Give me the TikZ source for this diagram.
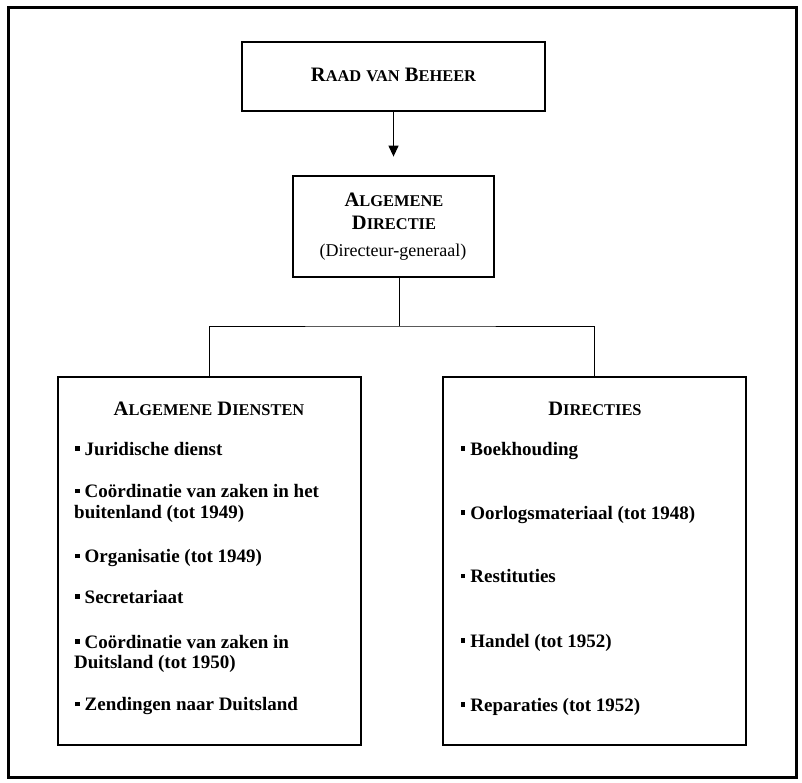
\documentclass[tikz,border=0pt]{standalone}
\usepackage{fontspec}
\setmainfont{Liberation Serif}
\usetikzlibrary{arrows.meta}

\newcommand{\ksc}[2]{#1{\fontsize{16.4pt}{19pt}\selectfont #2}}
\newcommand{\blt}{\rule[4.5pt]{4.5pt}{4.5pt}\hspace{5pt}}

\begin{document}
\begin{tikzpicture}[x=1pt,y=-1pt,
  box/.style={draw,line width=2.8pt,inner sep=0pt},
  head/.style={anchor=base,inner sep=0pt,font=\fontsize{20.5pt}{24pt}\selectfont\bfseries},
  item/.style={anchor=base west,inner sep=0pt,font=\fontsize{19pt}{22pt}\selectfont\bfseries},
  link/.style={line width=1pt}]

\useasboundingbox (0,0) rectangle (802,783);
\draw[line width=2.5pt] (8.5,7.5) rectangle (796.5,777.5);

% top
\node[box,minimum width=303pt,minimum height=69pt] (raad) at (393.5,76.5) {};
\node[head] (raadtxt) at (393.5,82) {\ksc{R}{AAD} \ksc{}{VAN} \ksc{B}{EHEER}};

\node[box,minimum width=201pt,minimum height=101pt] (mid) at (393.5,226.5) {};
\node[head] (midA) at (394,206.7) {\ksc{A}{LGEMENE}};
\node[head] (midB) at (394,230) {\ksc{D}{IRECTIE}};
\node[head,font=\fontsize{18pt}{22pt}\selectfont] (midC) at (393,256.7) {(Directeur-generaal)};

% bottom boxes
\node[box,minimum width=303pt,minimum height=368pt] (diensten) at (209.5,561) {};
\node[box,minimum width=303pt,minimum height=368pt] (directies) at (594.5,561) {};

\node[head] (dienstenkop) at (209,415) {\ksc{A}{LGEMENE} \ksc{D}{IENSTEN}};
\node[head] (directieskop) at (595,415.7) {\ksc{D}{IRECTIES}};

\node[item] (jur) at (75,455) {\blt Juridische dienst};
\node[item] (coa) at (75,497.7) {\blt Coördinatie van zaken in het};
\node[item] (cob) at (74,518) {buitenland (tot 1949)};
\node[item] (org) at (75,562.7) {\blt Organisatie (tot 1949)};
\node[item] (sec) at (75,603) {\blt Secretariaat};
\node[item] (cda) at (75,648) {\blt Coördinatie van zaken in};
\node[item] (cdb) at (74,668) {Duitsland (tot 1950)};
\node[item] (zen) at (75,710.7) {\blt Zendingen naar Duitsland};

\node[item] (boek) at (460.7,455) {\blt Boekhouding};
\node[item] (oorl) at (460.7,519) {\blt Oorlogsmateriaal (tot 1948)};
\node[item] (rest) at (460.7,582.7) {\blt Restituties};
\node[item] (handel) at (460.7,647) {\blt Handel (tot 1952)};
\node[item] (rep) at (460.7,711) {\blt Reparaties (tot 1952)};

% connectors
\coordinate (split) at (399,326);
\draw[line width=1.3pt,-{Triangle[length=11pt,width=10pt]},shorten >=18pt] (raad.south) -- (mid.north);
\draw[link] (mid.south -| split) -- (split);
\draw[link] (diensten.north) |- (split) -| (directies.north);
\end{tikzpicture}
\end{document}
